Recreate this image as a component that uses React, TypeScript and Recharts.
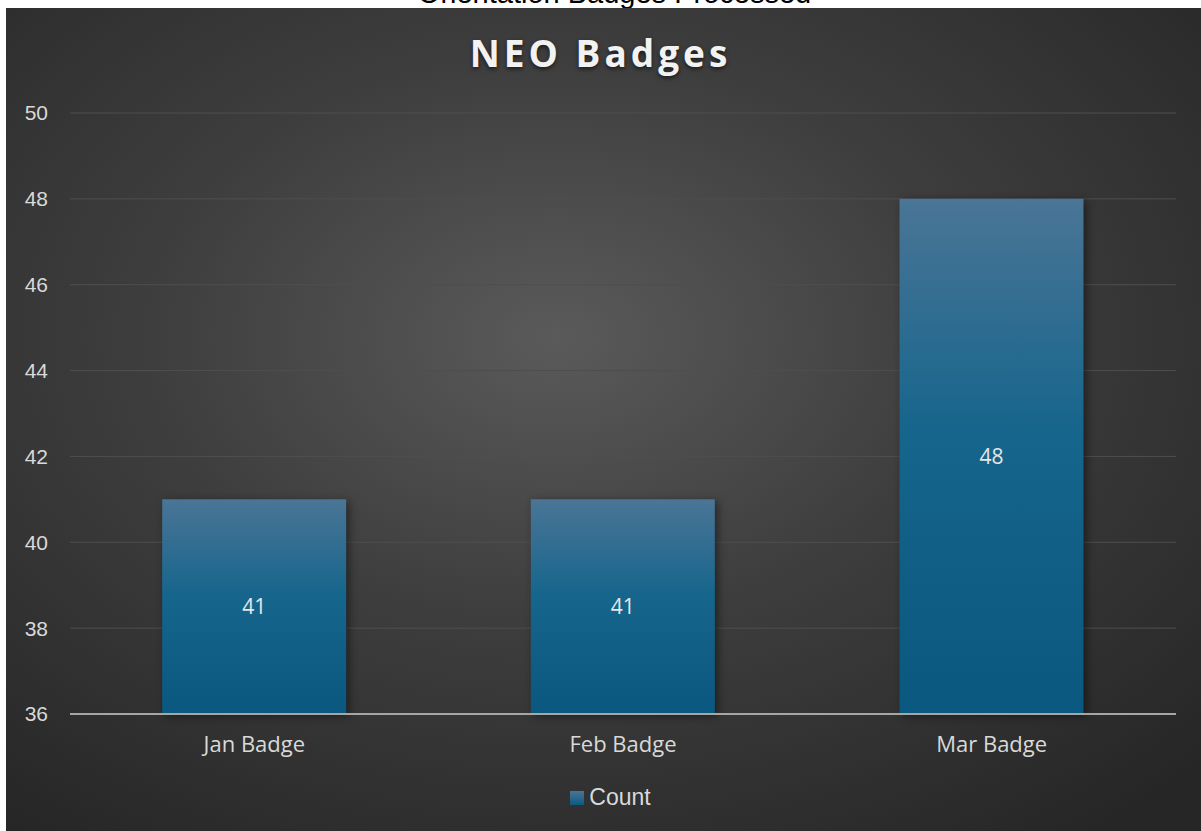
import React from "react";
import {
  BarChart,
  Bar,
  XAxis,
  YAxis,
  CartesianGrid,
  Legend,
  LabelList,
} from "recharts";

const categories = ["Jan Badge", "Feb Badge", "Mar Badge"];
const counts = [41, 41, 48];
const yTicks = [36, 38, 40, 42, 44, 46, 48, 50];

const data = categories.map((name, i) => ({ name, Count: counts[i] }));

const W = 1201;
const H = 831;

const LegendBox = () => (
  <div
    style={{
      display: "flex",
      justifyContent: "center",
      alignItems: "center",
      fontFamily: "'Liberation Sans', Arial, sans-serif",
      fontSize: 23,
      color: "#d9d9d9",
      paddingLeft: 20,
    }}
  >
    <span
      style={{
        display: "inline-block",
        width: 14,
        height: 14,
        marginRight: 5,
        background: "linear-gradient(#4a7596, #0b5a82)",
      }}
    />
    Count
  </div>
);

export default function App() {
  return (
    <div
      style={{
        position: "absolute",
        left: 0,
        top: 0,
        width: W,
        height: H,
        background: "#ffffff",
        overflow: "hidden",
      }}
    >
      <div
        style={{
          position: "absolute",
          left: 0,
          width: W,
          top: -23,
          textAlign: "center",
          fontFamily: "'Liberation Sans', Arial, sans-serif",
          fontSize: 29,
          lineHeight: "32px",
          color: "#000",
          paddingLeft: 14,
        }}
      >
        Orientation Badges Processed
      </div>
      <div
        style={{
          position: "absolute",
          left: 6,
          top: 8,
          width: W - 6,
          height: H - 8,
          background:
            "radial-gradient(ellipse 75% 75% at 46% 40%, #5a5a5a 0%, #3e3e3e 45%, #262626 100%)",
        }}
      />
      <div
        style={{
          position: "absolute",
          left: 0,
          width: W,
          top: 27,
          textAlign: "center",
          fontFamily: "'Open Sans', sans-serif",
          fontWeight: 700,
          fontSize: 37,
          letterSpacing: 4,
          color: "#f2f2f2",
          textShadow: "0 2px 4px rgba(0,0,0,0.6)",
          paddingLeft: 0,
        }}
      >
        NEO Badges
      </div>
      <div style={{ position: "absolute", left: 0, top: 0 }}>
        <BarChart
          width={W}
          height={H}
          data={data}
          margin={{ top: 113, right: 25, bottom: 77, left: 30 }}
          barCategoryGap="25%"
        >
          <defs>
            <linearGradient id="barFill" x1="0" y1="0" x2="0" y2="1">
              <stop offset="0%" stopColor="#4a7596" />
              <stop offset="45%" stopColor="#16658c" />
              <stop offset="100%" stopColor="#0a5780" />
            </linearGradient>
          </defs>
          <CartesianGrid vertical={false} stroke="#4e4e4e" strokeWidth={1} />
          <XAxis
            dataKey="name"
            height={40}
            tickLine={false}
            tickSize={0}
            tickMargin={22}
            axisLine={{ stroke: "#a6a6a6", strokeWidth: 2 }}
            tick={{
              fill: "#d9d9d9",
              fontSize: 22,
              fontFamily: "'Open Sans', sans-serif",
            }}
          />
          <YAxis
            width={40}
            domain={[36, 50]}
            ticks={yTicks}
            interval={0}
            axisLine={false}
            tickLine={false}
            tickSize={0}
            tickMargin={22}
            tick={{
              fill: "#d9d9d9",
              fontSize: 21,
              fontFamily: "'Liberation Sans', Arial, sans-serif",
            }}
          />
          <Legend
            layout="horizontal"
            verticalAlign="middle"
            align="center"
            wrapperStyle={{ position: "absolute", top: 784, left: 0, width: W }}
            content={() => <LegendBox />}
          />
          <Bar
            dataKey="Count"
            fill="url(#barFill)"
            isAnimationActive={false}
            style={{ filter: "drop-shadow(3px 2px 4px rgba(0,0,0,0.45))" }}
          >
            <LabelList
              dataKey="Count"
              position="center"
              fill="#e6e6e6"
              fontSize={21}
              fontFamily="'Open Sans', sans-serif"
            />
          </Bar>
        </BarChart>
      </div>
    </div>
  );
}
